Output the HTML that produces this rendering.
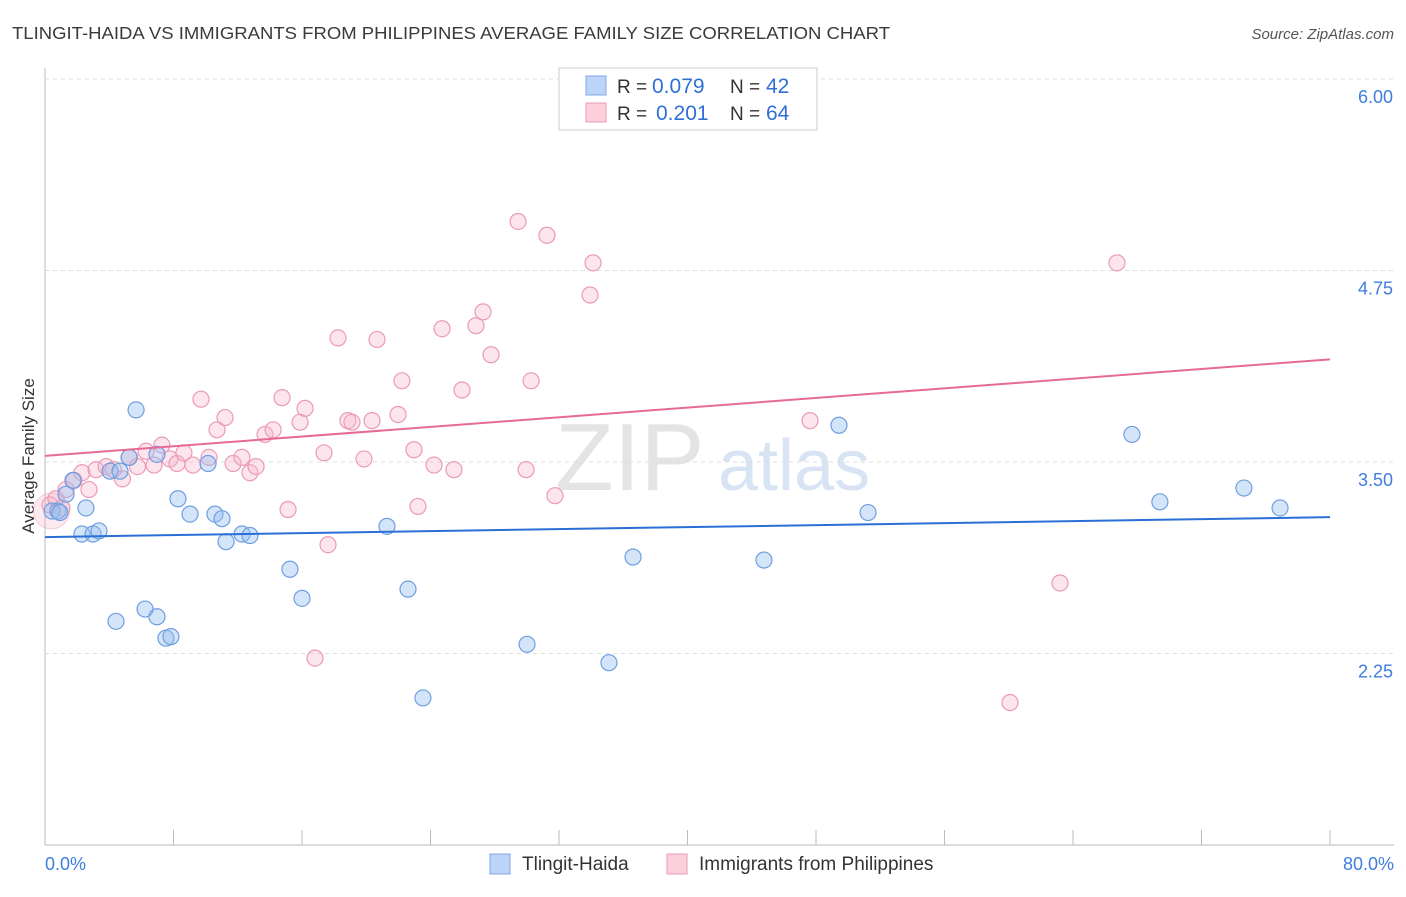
<!DOCTYPE html>
<html><head><meta charset="utf-8">
<style>
body{margin:0;background:#fff;font-family:"Liberation Sans",sans-serif;}
svg text{font-family:"Liberation Sans",sans-serif;}
</style></head>
<body>
<svg id="chart" width="1406" height="892" viewBox="0 0 1406 892">
<text x="12" y="39" font-size="17.5" fill="#3a3a3a" textLength="878" lengthAdjust="spacingAndGlyphs">TLINGIT-HAIDA VS IMMIGRANTS FROM PHILIPPINES AVERAGE FAMILY SIZE CORRELATION CHART</text>
<text x="1394" y="39" font-size="15" fill="#555" text-anchor="end" font-style="italic">Source: ZipAtlas.com</text>
<text x="555" y="490" font-size="96" fill="#e4e4e4" font-family="Liberation Serif">ZIP</text>
<text x="718" y="490" font-size="72" fill="#d8e4f4">atlas</text>
<text transform="translate(34,456) rotate(-90)" font-size="17" fill="#333" text-anchor="middle">Average Family Size</text>
<g id="grid"></g>
<g id="marks"></g>
<g>
<rect x="559" y="68" width="258" height="62" fill="#fff" stroke="#ccc"/>
<rect x="586" y="76" width="20" height="19" fill="#bcd4f6" stroke="#7ea8e6"/>
<rect x="586" y="103" width="20" height="19" fill="#fbcfdc" stroke="#ec9ab6"/>
<text x="617" y="93" font-size="19" fill="#333">R =</text>
<text x="652" y="93" font-size="21" fill="#2f6fd6">0.079</text>
<text x="730" y="93" font-size="19" fill="#333">N =</text>
<text x="766" y="93" font-size="21" fill="#2f6fd6">42</text>
<text x="617" y="120" font-size="19" fill="#333">R =</text>
<text x="656" y="120" font-size="21" fill="#2f6fd6">0.201</text>
<text x="730" y="120" font-size="19" fill="#333">N =</text>
<text x="766" y="120" font-size="21" fill="#2f6fd6">64</text>
</g>
<g>
<rect x="490" y="854" width="20" height="20" fill="#bcd4f6" stroke="#7ea8e6"/>
<text x="522" y="870" font-size="19" fill="#333">Tlingit-Haida</text>
<rect x="667" y="854" width="20" height="20" fill="#fbcfdc" stroke="#ec9ab6"/>
<text x="699" y="870" font-size="19" fill="#333">Immigrants from Philippines</text>
</g>
</svg>
<script>
const yTicks=[6.00,4.75,3.50,2.25];
const xTickLabels=["0.0%","80.0%"];
const blueX=[0.44,0.81,1.31,1.74,2.55,2.30,2.99,3.36,4.05,4.67,4.42,5.23,5.67,6.23,6.97,6.97,7.53,7.84,8.28,9.03,10.15,10.58,11.02,11.27,12.27,12.76,15.25,16.00,21.29,22.60,23.53,30.01,35.11,36.61,44.76,49.43,51.24,67.67,69.41,74.64,76.89,0.93];
const blueY=[3.18,3.18,3.29,3.38,3.20,3.03,3.03,3.05,3.44,3.44,2.46,3.53,3.84,2.54,2.49,3.55,2.35,2.36,3.26,3.16,3.49,3.16,3.13,2.98,3.03,3.02,2.80,2.61,3.08,2.67,1.96,2.31,2.19,2.88,2.86,3.74,3.17,3.68,3.24,3.33,3.20,3.17];
const pinkX=[0.31,0.68,1.06,1.31,1.81,2.30,2.74,3.18,3.81,4.26,4.82,5.26,5.76,6.29,6.79,7.28,7.78,8.22,8.65,9.21,9.71,10.21,10.71,11.21,11.71,12.26,12.76,13.14,13.70,14.20,14.76,15.13,15.88,16.19,16.81,17.37,17.62,18.24,18.86,19.11,19.86,20.36,20.67,21.98,22.22,22.97,23.22,24.22,24.72,25.46,25.96,26.83,27.27,27.77,29.45,29.95,30.26,31.25,31.75,33.93,34.12,47.63,60.08,63.19,66.74];
const pinkY=[3.22,3.26,3.20,3.32,3.38,3.43,3.32,3.45,3.47,3.45,3.39,3.53,3.47,3.57,3.48,3.61,3.52,3.49,3.56,3.48,3.91,3.53,3.71,3.79,3.49,3.53,3.43,3.47,3.68,3.71,3.92,3.19,3.76,3.85,2.22,3.56,2.96,4.31,3.77,3.76,3.52,3.77,4.30,3.81,4.03,3.58,3.21,3.48,4.37,3.45,3.97,4.39,4.48,4.20,5.07,3.45,4.03,4.98,3.28,4.59,4.80,3.77,1.93,2.71,4.80];
const blueLine=[3.01,3.14];
const pinkLine=[3.54,4.17];
const NS="http://www.w3.org/2000/svg";
const X0=45,X1=1330,Y0=79,PPU=153.2;
function xs(p){return X0+(p/80)*(X1-X0);}
function ys(v){return Y0+(6-v)*PPU;}
function mk(t,a,parent){const e=document.createElementNS(NS,t);for(const k in a)e.setAttribute(k,a[k]);parent.appendChild(e);return e;}
const grid=document.getElementById('grid');
mk('line',{x1:45,y1:68,x2:45,y2:845,stroke:'#bbb'},grid);
mk('line',{x1:45,y1:845,x2:1394,y2:845,stroke:'#bbb'},grid);
yTicks.forEach(v=>{
  const g=mk('line',{x1:45,y1:ys(v),x2:1394,y2:ys(v),stroke:'#ddd','stroke-dasharray':'4,4'},grid);
  
  
  const t=mk('text',{x:1393,y:ys(v)+24,'font-size':18,fill:'#3f7de0','text-anchor':'end'},grid);
  t.textContent=v.toFixed(2);
  
  
});
for(let i=0;i<=10;i++){
  const p=i*8;
  const tk=mk('line',{x1:xs(p),y1:830,x2:xs(p),y2:845,stroke:'#bbb'},grid);
  
  
}
xTickLabels.forEach((l,i)=>{
  const t=mk('text',{x:i==0?45:1394,y:870,'font-size':18,fill:'#3f7de0','text-anchor':i==0?'start':'end'},grid);
  t.textContent=l;
  
  
});
const marks=document.getElementById('marks');
const big=mk('circle',{cx:xs(0.4),cy:ys(3.18),r:18,fill:'rgba(245,170,195,0.25)',stroke:'rgba(232,144,176,0.4)'},marks);


pinkX.forEach((x,i)=>{
  const c=mk('circle',{cx:xs(x),cy:ys(pinkY[i]),r:8,fill:'rgba(247,180,202,0.35)',stroke:'#eb9ab7','stroke-width':1.2},marks);
  
  
});
blueX.forEach((x,i)=>{
  const c=mk('circle',{cx:xs(x),cy:ys(blueY[i]),r:8,fill:'rgba(150,190,240,0.4)',stroke:'#6e9fe0','stroke-width':1.2},marks);
  
  
});
const bl=mk('line',{x1:xs(0),y1:ys(blueLine[0]),x2:xs(80),y2:ys(blueLine[1]),stroke:'#2a6fd6','stroke-width':2},marks);


const pl=mk('line',{x1:xs(0),y1:ys(pinkLine[0]),x2:xs(80),y2:ys(pinkLine[1]),stroke:'#e66a95','stroke-width':2},marks);


</script>
</body></html>
